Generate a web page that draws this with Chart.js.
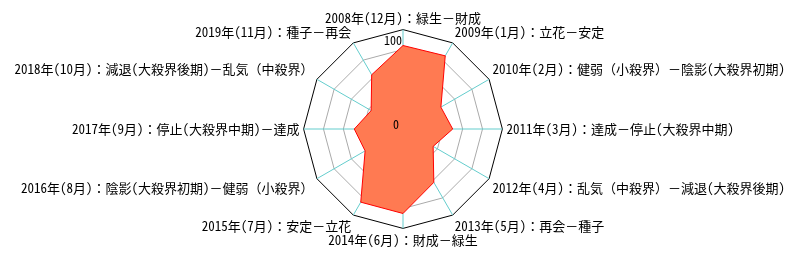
<!DOCTYPE html>
<html>
<head>
<meta charset="utf-8">
<script src="https://cdn.jsdelivr.net/npm/chart.js@4"></script>
<style>
html,body{margin:0;padding:0;background:#fff;}
#wrap{width:800px;height:260px;}
</style>
</head>
<body>
<div id="wrap"><canvas id="c" width="800" height="260"></canvas></div>
<script>
const categories = [
  "2008年(12月)：緑生－財成",
  "2009年(1月)：立花－安定",
  "2010年(2月)：健弱（小殺界）－陰影(大殺界初期)",
  "2011年(3月)：達成－停止(大殺界中期)",
  "2012年(4月)：乱気（中殺界）－減退(大殺界後期)",
  "2013年(5月)：再会－種子",
  "2014年(6月)：財成－緑生",
  "2015年(7月)：安定－立花",
  "2016年(8月)：陰影(大殺界初期)－健弱（小殺界）",
  "2017年(9月)：停止(大殺界中期)－達成",
  "2018年(10月)：減退(大殺界後期)－乱気（中殺界）",
  "2019年(11月)：種子－再会"
];
const seriesValues = [84, 85, 44, 50, 35, 62, 85, 85, 44, 49, 37, 63];
const tickValues = [0, 100];
const tickLabels = ["0", "100"];

const FONT = '"Noto Sans Mono CJK JP", "Noto Sans CJK JP", "Noto Sans", sans-serif';

const tickLabelPlugin = {
  id: 'tickLabelPlugin',
  afterDraw(chart) {
    const s = chart.scales.r;
    const ctx = chart.ctx;
    ctx.save();
    ctx.font = '12px ' + FONT;
    ctx.fillStyle = '#000';
    ctx.textAlign = 'right';
    tickValues.forEach((v, i) => {
      const p = s.getPointPositionForValue(0, v);
      if (v === s.max) {
        ctx.textBaseline = 'top';
        ctx.fillText(tickLabels[i], p.x - 1, p.y + 5);
      } else {
        ctx.textBaseline = 'bottom';
        ctx.fillText(tickLabels[i], p.x - 4, p.y + 1);
      }
    });
    ctx.restore();
  }
};

new Chart(document.getElementById('c'), {
  type: 'radar',
  data: {
    labels: categories,
    datasets: [{
      data: seriesValues,
      backgroundColor: 'rgb(255,122,82)',
      borderColor: 'rgb(255,0,0)',
      borderWidth: 1,
      pointRadius: 0,
      pointHoverRadius: 0,
      fill: true
    }]
  },
  options: {
    responsive: false,
    animation: false,
    plugins: { legend: { display: false }, tooltip: { enabled: false } },
    layout: { padding: { top: 11, bottom: 11, left: 0, right: 0 } },
    scales: {
      r: {
        z: 1,
        min: 0,
        max: 100,
        ticks: { stepSize: 20, display: false },
        grid: {
          circular: false,
          lineWidth: 1,
          color: (c) => (c.tick && c.tick.value === 100) ? '#000000' : '#aaaaaa'
        },
        angleLines: { color: 'rgb(100,205,205)', lineWidth: 1 },
        pointLabels: {
          color: '#000',
          font: { family: FONT, size: 13 },
          padding: 4
        }
      }
    }
  },
  plugins: [tickLabelPlugin]
});
</script>
</body>
</html>
